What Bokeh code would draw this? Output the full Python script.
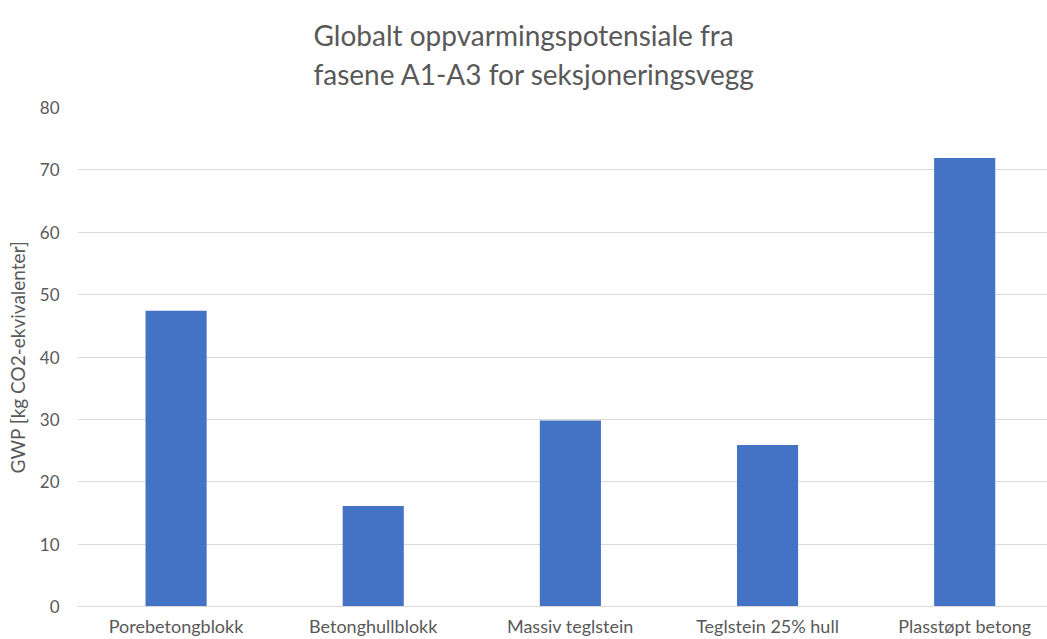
from bokeh.plotting import figure
from bokeh.models import Range1d, FixedTicker, ColumnDataSource
from bokeh.embed import file_html
from bokeh.resources import INLINE

categories = ["Porebetongblokk", "Betonghullblokk", "Massiv teglstein", "Teglstein 25% hull", "Plasstøpt betong"]
gwp_values = [47.4, 16.1, 29.8, 25.9, 71.9]
y_ticks = [0, 10, 20, 30, 40, 50, 60, 70, 80]
title_lines = ["Globalt oppvarmingspotensiale fra", "fasene A1-A3 for seksjoneringsvegg"]

FONT = "Lato"
GREY = "#595959"

xs = list(range(len(categories)))
src = ColumnDataSource(dict(x=xs, top=gwp_values))

p = figure(width=1047, height=639, output_backend="svg", toolbar_location=None,
           x_range=Range1d(-0.5, 4.42), y_range=Range1d(0, 80),
           min_border_left=77, min_border_right=0, min_border_top=0, min_border_bottom=0)

p.vbar(x="x", top="top", width=0.31, source=src, fill_color="#4472C4", line_color=None)

p.title.text = "\n".join(title_lines)
p.title.align = "left"
p.title.offset = 236
p.title.standoff = 32
p.title.text_font = FONT
p.title.text_font_size = "28px"
p.title.text_font_style = "normal"
p.title.text_color = GREY
p.title.text_line_height = 1.15

p.outline_line_color = None
p.background_fill_color = "white"
p.border_fill_color = "white"

p.xgrid.grid_line_color = None
p.ygrid.grid_line_color = "#d9d9d9"
p.ygrid.grid_line_width = 1

p.yaxis.ticker = FixedTicker(ticks=y_ticks)
p.yaxis.axis_line_color = None
p.yaxis.major_tick_line_color = None
p.yaxis.minor_tick_line_color = None
p.yaxis.major_label_text_font = FONT
p.yaxis.major_label_text_font_size = "17px"
p.yaxis.major_label_text_color = GREY
p.yaxis.major_label_standoff = 12
p.yaxis.axis_label = "GWP [kg CO2-ekvivalenter]"
p.yaxis.axis_label_text_font = FONT
p.yaxis.axis_label_text_font_size = "19px"
p.yaxis.axis_label_text_font_style = "normal"
p.yaxis.axis_label_text_color = GREY
p.yaxis.axis_label_standoff = 8

p.xaxis.ticker = FixedTicker(ticks=xs)
p.xaxis.major_label_overrides = {i: c for i, c in zip(xs, categories)}
p.xaxis.axis_line_color = "#d9d9d9"
p.xaxis.major_tick_line_color = None
p.xaxis.minor_tick_line_color = None
p.xaxis.major_label_text_font = FONT
p.xaxis.major_label_text_font_size = "18px"
p.xaxis.major_label_text_color = GREY
p.xaxis.major_label_standoff = 2

open("out.html", "w").write(file_html(p, INLINE))
